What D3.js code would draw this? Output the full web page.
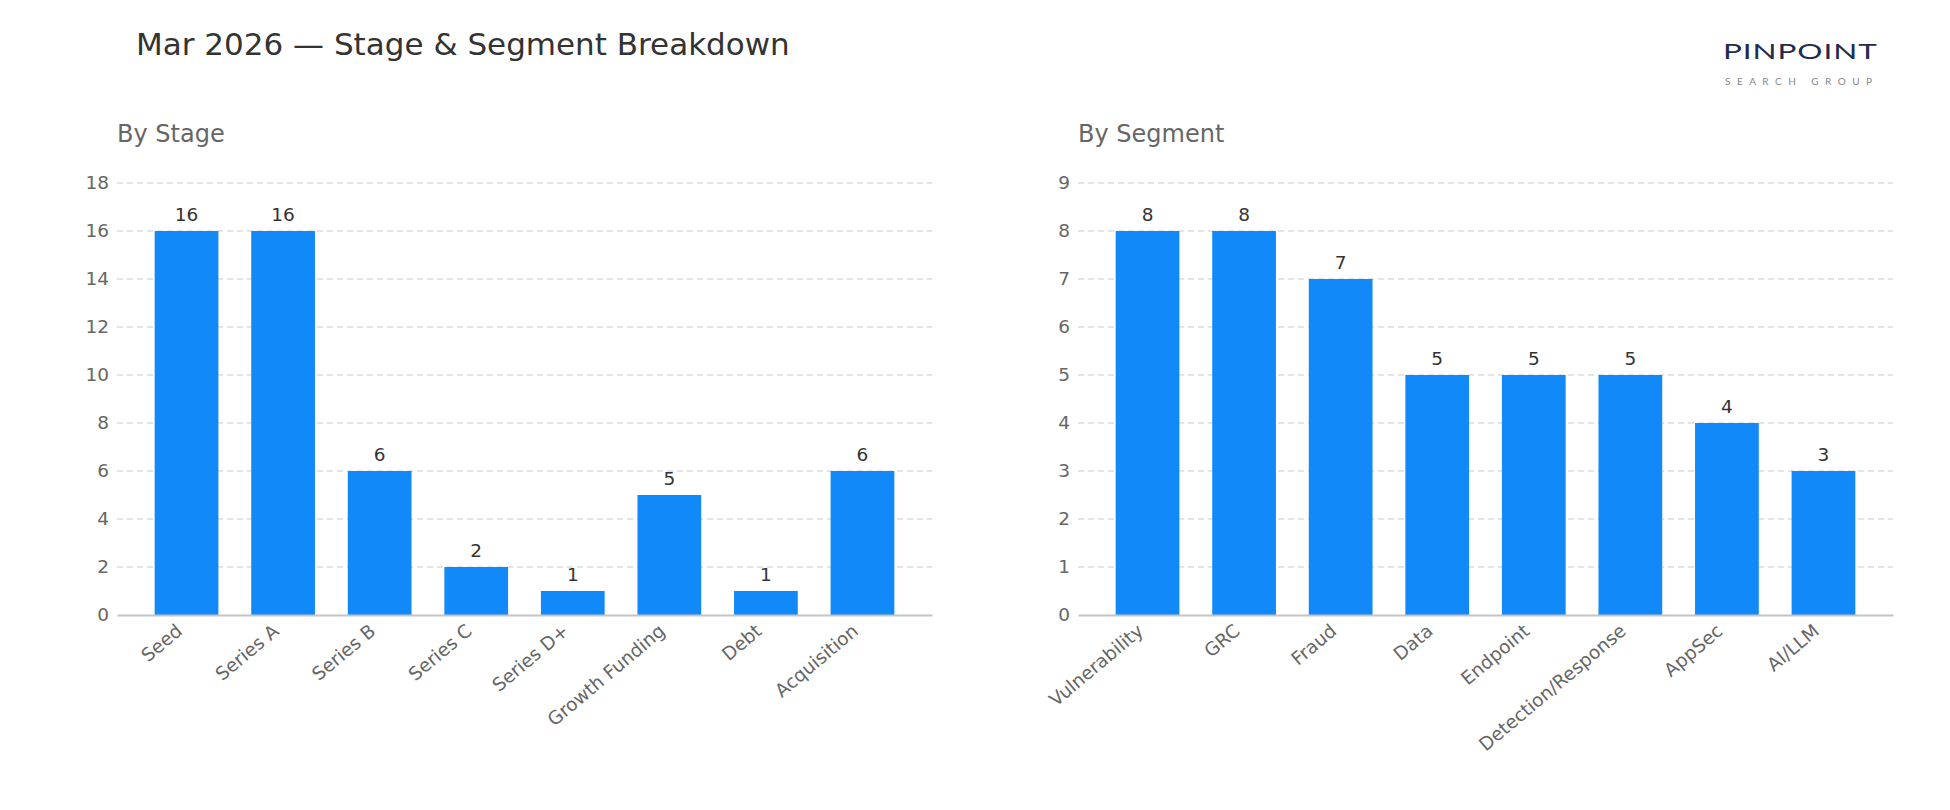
<!DOCTYPE html>
<html>

<head>
    <meta charset="UTF-8">
    <title>Mar 2026 — Stage & Segment Breakdown</title>
    <style>
        body { margin: 0; background: #fff; font-family: 'DejaVu Sans', sans-serif; }
    </style>
</head>

<body>
    <svg></svg>
    <script src="https://d3js.org/d3.v7.min.js"></script>
    <script>
        // chart values
        const stageNames = ["Seed", "Series A", "Series B", "Series C", "Series D+", "Growth Funding", "Debt", "Acquisition"];
        const stageCounts = [16, 16, 6, 2, 1, 5, 1, 6];
        const stageTicks = [0, 2, 4, 6, 8, 10, 12, 14, 16, 18];

        const segmentNames = ["Vulnerability", "GRC", "Fraud", "Data", "Endpoint", "Detection/Response", "AppSec", "AI/LLM"];
        const segmentCounts = [8, 8, 7, 5, 5, 5, 4, 3];
        const segmentTicks = [0, 1, 2, 3, 4, 5, 6, 7, 8, 9];

        let width = 1950,
            height = 810;

        let svg = d3.select("svg")
            .attr("width", width)
            .attr("height", height);

        const barColor = "#1289f8";

        svg.append("text")
            .attr("x", 136)
            .attr("y", 55)
            .attr("font-size", 31)
            .attr("fill", "#333")
            .text("Mar 2026 — Stage & Segment Breakdown");

        // logo (wide thin lettering)
        svg.append("text")
            .attr("transform", "translate(1723,59) scale(1.5,1)")
            .attr("font-family", "Lato, sans-serif")
            .attr("font-size", 21)
            .attr("fill", "#222a4d")
            .attr("textLength", 102.5)
            .attr("lengthAdjust", "spacing")
            .text("PINPOINT");
        svg.append("text")
            .attr("x", 1725)
            .attr("y", 85)
            .attr("font-family", "Lato, sans-serif")
            .attr("font-size", 10)
            .attr("fill", "#888")
            .attr("textLength", 147)
            .attr("lengthAdjust", "spacing")
            .text("SEARCH GROUP");

        drawPanel("By Stage", stageNames, stageCounts, stageTicks, 117, 932);
        drawPanel("By Segment", segmentNames, segmentCounts, segmentTicks, 1078, 1893);

        function drawPanel(title, names, counts, ticks, left, right) {
            const top = 183, bottom = 615;
            const g = svg.append("g");

            g.append("text")
                .attr("x", left)
                .attr("y", 142)
                .attr("font-size", 24)
                .attr("fill", "#666")
                .text(title);

            const x = d3.scaleBand()
                .domain(names)
                .range([left, right])
                .paddingInner(0.34)
                .paddingOuter(0.39);

            const y = d3.scaleLinear()
                .domain([0, d3.max(ticks)])
                .range([bottom, top]);

            // dashed grid behind bars
            g.append("g")
                .selectAll("line")
                .data(ticks.filter(t => t > 0))
                .enter().append("line")
                .attr("x1", left)
                .attr("x2", right)
                .attr("y1", d => y(d))
                .attr("y2", d => y(d))
                .attr("stroke", "#dcdcdc")
                .attr("stroke-width", 1.4)
                .attr("stroke-dasharray", "6,4");

            const data = names.map((n, i) => ({ name: n, value: counts[i] }));

            g.append("g")
                .selectAll("rect")
                .data(data)
                .enter().append("rect")
                .attr("x", d => x(d.name))
                .attr("width", x.bandwidth())
                .attr("y", d => y(d.value))
                .attr("height", d => y(0) - y(d.value))
                .attr("fill", barColor);

            g.append("g")
                .selectAll("text")
                .data(data)
                .enter().append("text")
                .attr("x", d => x(d.name) + x.bandwidth() / 2)
                .attr("y", d => y(d.value) - 10)
                .attr("text-anchor", "middle")
                .attr("font-size", 18.5)
                .attr("fill", "#333")
                .text(d => d.value);

            const yAxis = g.append("g")
                .attr("transform", `translate(${left},0)`)
                .call(d3.axisLeft(y).tickValues(ticks).tickSize(0).tickPadding(8));
            yAxis.select(".domain").remove();
            yAxis.selectAll("text")
                .attr("font-family", "DejaVu Sans, sans-serif")
                .attr("font-size", 18.5)
                .attr("fill", "#666");

            const xAxis = g.append("g")
                .attr("transform", `translate(0,${bottom})`)
                .call(d3.axisBottom(x).tickSize(0).tickSizeOuter(0));
            xAxis.select(".domain")
                .attr("stroke", "#c4c4c4")
                .attr("stroke-width", 2);
            xAxis.selectAll(".tick text")
                .attr("font-family", "DejaVu Sans, sans-serif")
                .attr("font-size", 18.5)
                .attr("fill", "#666")
                .attr("text-anchor", "end")
                .attr("x", 0)
                .attr("y", 0)
                .attr("dy", 0)
                .attr("transform", "translate(-3,18) rotate(-40)");
        }
    </script>
</body>

</html>
